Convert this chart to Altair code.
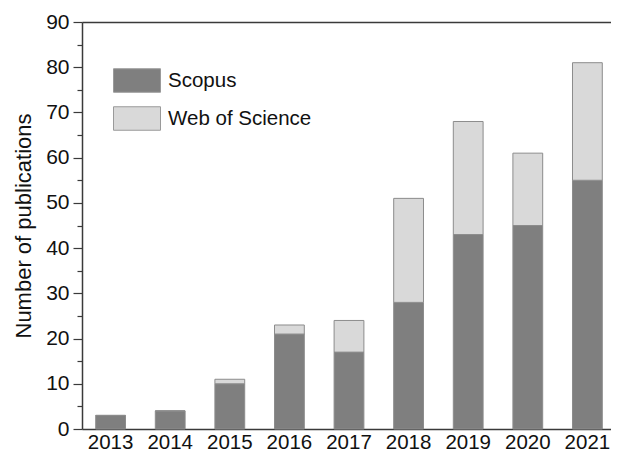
import altair as alt
import pandas as pd

years = ["2013", "2014", "2015", "2016", "2017", "2018", "2019", "2020", "2021"]
scopus = [3, 4, 10, 21, 17, 28, 43, 45, 55]
wos_extra = [0, 0, 1, 2, 7, 23, 25, 16, 26]
series = ["Scopus", "Web of Science"]
y_ticks = list(range(0, 95, 5))

rows = []
for i, yr in enumerate(years):
    rows.append({"year": yr, "source": series[0], "value": scopus[i], "order": 0})
    rows.append({"year": yr, "source": series[1], "value": wos_extra[i], "order": 1})
df = pd.DataFrame(rows)

FONT = "Liberation Sans"
AX = "#3a3a3a"

xscale = alt.Scale(domain=years, range=[0, 534], paddingInner=0.5, paddingOuter=0.23)
yscale = alt.Scale(domain=[0, 90], nice=False, zero=True)

bars = alt.Chart(df).mark_bar(stroke="#8c8c8c", strokeWidth=1).encode(
    x=alt.X("year:N", scale=xscale, sort=years,
            axis=alt.Axis(title=None, orient="bottom", ticks=False, labelAngle=0,
                          labelFontSize=20.5, labelPadding=3, labelColor="#111",
                          domainColor=AX, domainWidth=1.5, labelFont=FONT)),
    y=alt.Y("value:Q", stack="zero", scale=yscale,
            axis=alt.Axis(title="Number of publications", values=y_ticks,
                          labelExpr="datum.value % 10 == 0 ? datum.label : ''",
                          tickSize={"condition": {"test": "datum.value % 10 == 0", "value": 9}, "value": 5},
                          tickColor=AX, tickWidth=1.2, domainColor=AX, domainWidth=1.5,
                          labelFontSize=21, labelPadding=4, labelColor="#111", labelFont=FONT,
                          titleFont=FONT, titleFontSize=22, titleFontWeight="normal",
                          titleColor="#111", titlePadding=10, grid=False)),
    color=alt.Color("source:N", scale=alt.Scale(domain=series, range=["#7f7f7f", "#d9d9d9"]),
                    legend=alt.Legend(title=None, orient="none", legendX=31, legendY=34.5,
                                      symbolType="M-1,-0.5H1V0.5H-1Z", symbolSize=2209,
                                      symbolStrokeColor="#9a9a9a", symbolStrokeWidth=1,
                                      labelFontSize=20.5, labelFont=FONT, labelColor="#111",
                                      labelOffset=7, rowPadding=-11, padding=0)),
    order=alt.Order("order:Q"),
)

top = alt.Chart(df).mark_bar(opacity=0).encode(
    x=alt.X("year:N", scale=xscale, sort=years,
            axis=alt.Axis(title=None, orient="top", ticks=False, labels=False,
                          domainColor=AX, domainWidth=1.5)),
)

chart = alt.layer(bars, top).resolve_axis(x="independent").properties(
    width=529, height=407,
    autosize=alt.AutoSizeParams(type="none"),
    padding={"left": 74, "top": 14, "right": 0, "bottom": 28},
).configure_view(stroke=None)

chart.save("out.html", embed_options={"renderer": "svg", "actions": False})
